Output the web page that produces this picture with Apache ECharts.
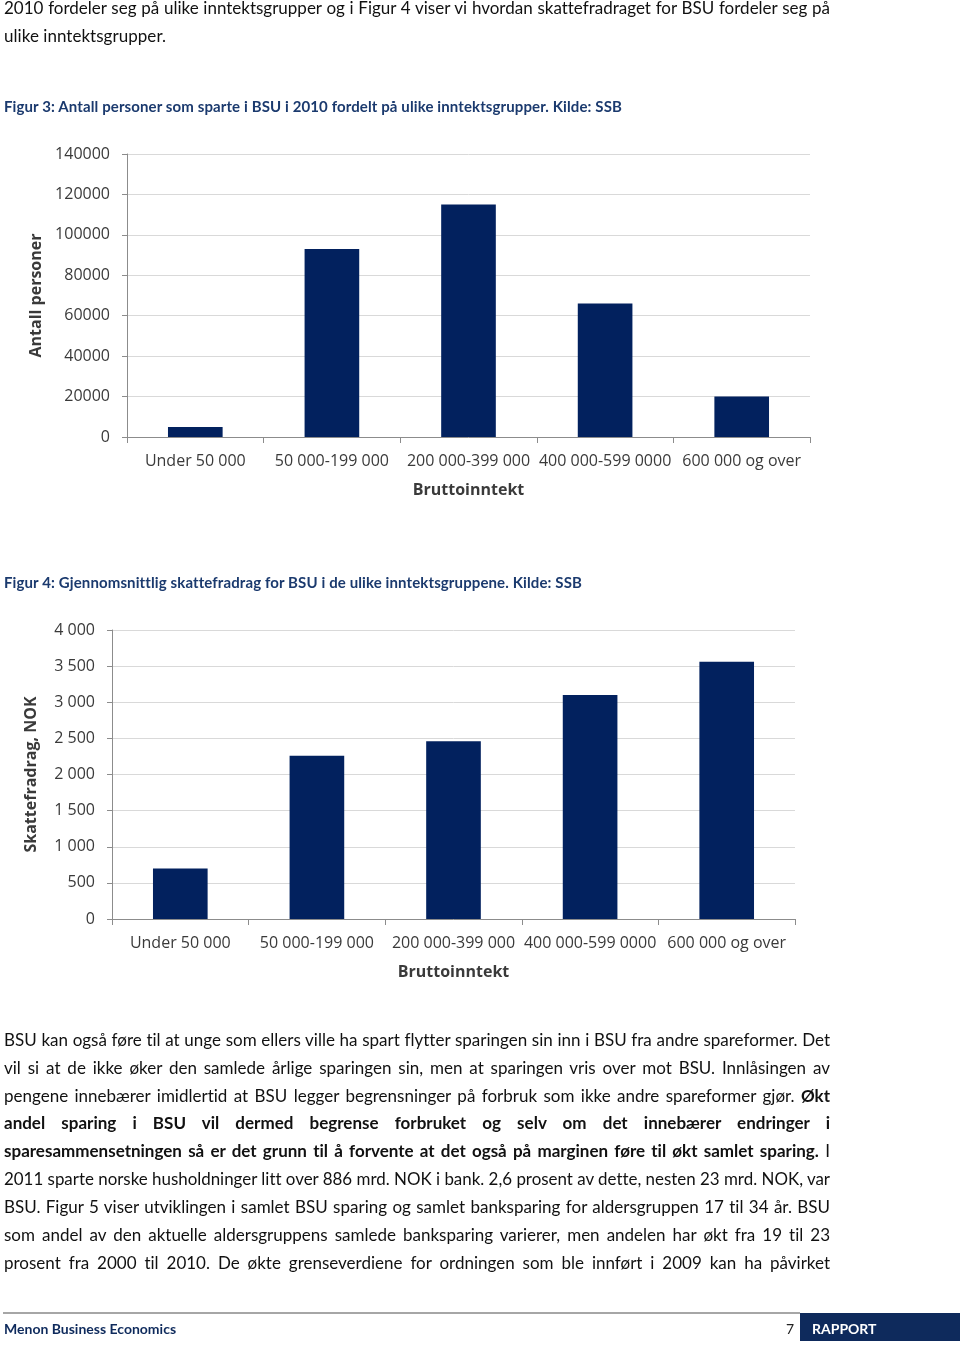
<!DOCTYPE html>
<html>
<head>
<meta charset="UTF-8">
<script src="https://cdn.jsdelivr.net/npm/echarts@6/dist/echarts.min.js"></script>
<style>
  html, body { margin: 0; padding: 0; background: #fff; }
  #page { position: relative; width: 960px; height: 1345px; overflow: hidden; }
  #chart { position: absolute; left: 0; top: 0; width: 960px; height: 1345px; }
  .ln { position: absolute; left: 4px; height: 28px; line-height: 28px; white-space: nowrap;
        font-family: Lato, "Open Sans", sans-serif; font-size: 17px; color: #111; z-index: 2;
        transform-origin: 0 50%; font-variant-ligatures: none;
        font-feature-settings: "liga" 0, "clig" 0, "dlig" 0, "calt" 0; }
  .cap { font-weight: bold; color: #1b3a6e; font-size: 15px; }
  b { font-weight: bold; }
  #rule { position: absolute; left: 3px; top: 1312px; width: 797px; height: 2px; background: #a6a6a6; }
  #box { position: absolute; left: 800px; top: 1313px; width: 160px; height: 28px; background: #0e2a5c; }
  .foot { position: absolute; top: 1319px; height: 20px; line-height: 20px; font-family: Lato, sans-serif;
          font-weight: bold; font-size: 14px; white-space: nowrap; z-index: 2; }
</style>
</head>
<body>
<div id="page">
  <div id="chart"></div>

  <div class="ln" style="top:-6px" data-w="826" data-j="1">2010 fordeler seg på ulike inntektsgrupper og i Figur 4 viser vi hvordan skattefradraget for BSU fordeler seg på</div>
  <div class="ln" style="top:22px" data-w="162">ulike inntektsgrupper.</div>

  <div class="ln cap" style="top:92px" data-w="618">Figur 3: Antall personer som sparte i BSU i 2010 fordelt på ulike inntektsgrupper. Kilde: SSB</div>
  <div class="ln cap" style="top:568px" data-w="578">Figur 4: Gjennomsnittlig skattefradrag for BSU i de ulike inntektsgruppene. Kilde: SSB</div>

  <div class="ln" style="top:1026px" data-w="826" data-j="1">BSU kan også føre til at unge som ellers ville ha spart flytter sparingen sin inn i BSU fra andre spareformer. Det</div>
  <div class="ln" style="top:1054px" data-w="826" data-j="1">vil si at de ikke øker den samlede årlige sparingen sin, men at sparingen vris over mot BSU. Innlåsingen av</div>
  <div class="ln" style="top:1082px" data-w="826" data-j="1">pengene innebærer imidlertid at BSU legger begrensninger på forbruk som ikke andre spareformer gjør. <b>Økt</b></div>
  <div class="ln" style="top:1109px" data-w="826" data-j="1"><b>andel sparing i BSU vil dermed begrense forbruket og selv om det innebærer endringer i</b></div>
  <div class="ln" style="top:1137px" data-w="826" data-j="1"><b>sparesammensetningen så er det grunn til å forvente at det også på marginen føre til økt samlet sparing.</b> I</div>
  <div class="ln" style="top:1165px" data-w="826" data-j="1">2011 sparte norske husholdninger litt over 886 mrd. NOK i bank. 2,6 prosent av dette, nesten 23 mrd. NOK, var</div>
  <div class="ln" style="top:1193px" data-w="826" data-j="1">BSU. Figur 5 viser utviklingen i samlet BSU sparing og samlet banksparing for aldersgruppen 17 til 34 år. BSU</div>
  <div class="ln" style="top:1221px" data-w="826" data-j="1">som andel av den aktuelle aldersgruppens samlede banksparing varierer, men andelen har økt fra 19 til 23</div>
  <div class="ln" style="top:1249px" data-w="826" data-j="1">prosent fra 2000 til 2010. De økte grenseverdiene for ordningen som ble innført i 2009 kan ha påvirket</div>

  <div id="rule"></div>
  <div id="box"></div>
  <div class="foot" style="left:4px;color:#0e2a5c">Menon Business Economics</div>
  <div class="foot" style="left:786px;color:#222;font-weight:normal">7</div>
  <div class="foot" style="left:812px;color:#fff">RAPPORT</div>
</div>

<script>
// categories and values
var categories = ['Under 50 000', '50 000-199 000', '200 000-399 000', '400 000-599 0000', '600 000 og over'];
var antallPersoner = [5000, 93000, 115000, 66000, 20000];
var skattefradrag = [700, 2260, 2460, 3100, 3560];
var axisName1 = 'Antall personer';
var axisName2 = 'Skattefradrag, NOK';
var xName = 'Bruttoinntekt';

// stretch / squeeze each text line to the width it has in the page
document.querySelectorAll('.ln').forEach(function (el) {
  var target = +el.dataset.w;
  var w = el.getBoundingClientRect().width;
  if (w > target) {
    el.style.transform = 'scaleX(' + (target / w) + ')';
  } else if (el.dataset.j) {
    var spaces = (el.textContent.match(/ /g) || []).length;
    el.style.wordSpacing = ((target - w) / spaces) + 'px';
  } else {
    el.style.letterSpacing = ((target - w) / el.textContent.length) + 'px';
  }
});

function spaced(v) {
  return String(v).replace(/\B(?=(\d{3})+(?!\d))/g, ' ');
}

var font = '"Open Sans", sans-serif';
var labelColor = '#3a3a3a';

function xAxis(gridIndex) {
  return {
    type: 'category', gridIndex: gridIndex, data: categories,
    name: xName, nameLocation: 'middle', nameGap: 45,
    nameTextStyle: { fontFamily: font, fontSize: 16, fontWeight: 'bold', color: labelColor },
    axisLine: { lineStyle: { color: '#8c8c8c', width: 1 } },
    axisTick: { show: true, length: 6, lineStyle: { color: '#8c8c8c' } },
    axisLabel: { fontFamily: font, fontSize: 16, color: labelColor, margin: 16, interval: 0 }
  };
}

function yAxis(gridIndex, max, interval, name, gap, fmt) {
  return {
    type: 'value', gridIndex: gridIndex, min: 0, max: max, interval: interval,
    name: name, nameLocation: 'middle', nameRotate: 90, nameGap: gap,
    nameTextStyle: { fontFamily: font, fontSize: 16, fontWeight: 'bold', color: labelColor },
    axisLine: { show: true, lineStyle: { color: '#8c8c8c', width: 1 } },
    axisTick: { show: true, length: 5, lineStyle: { color: '#8c8c8c' } },
    splitLine: { lineStyle: { color: '#d9d9d9', width: 1 } },
    axisLabel: { fontFamily: font, fontSize: 16, color: labelColor, margin: 17, formatter: fmt }
  };
}

var chart = echarts.init(document.getElementById('chart'), null, { renderer: 'canvas' });
chart.setOption({
  animation: false,
  grid: [
    { left: 127, top: 154, width: 683, height: 283 },
    { left: 112, top: 630, width: 683, height: 289 }
  ],
  xAxis: [xAxis(0), xAxis(1)],
  yAxis: [
    yAxis(0, 140000, 20000, axisName1, 81, function (v) { return v; }),
    yAxis(1, 4000, 500, axisName2, 73, spaced)
  ],
  series: [
    { type: 'bar', xAxisIndex: 0, yAxisIndex: 0, data: antallPersoner, barCategoryGap: '60%',
      itemStyle: { color: '#02215e' } },
    { type: 'bar', xAxisIndex: 1, yAxisIndex: 1, data: skattefradrag, barCategoryGap: '60%',
      itemStyle: { color: '#02215e' } }
  ]
});
</script>
</body>
</html>
